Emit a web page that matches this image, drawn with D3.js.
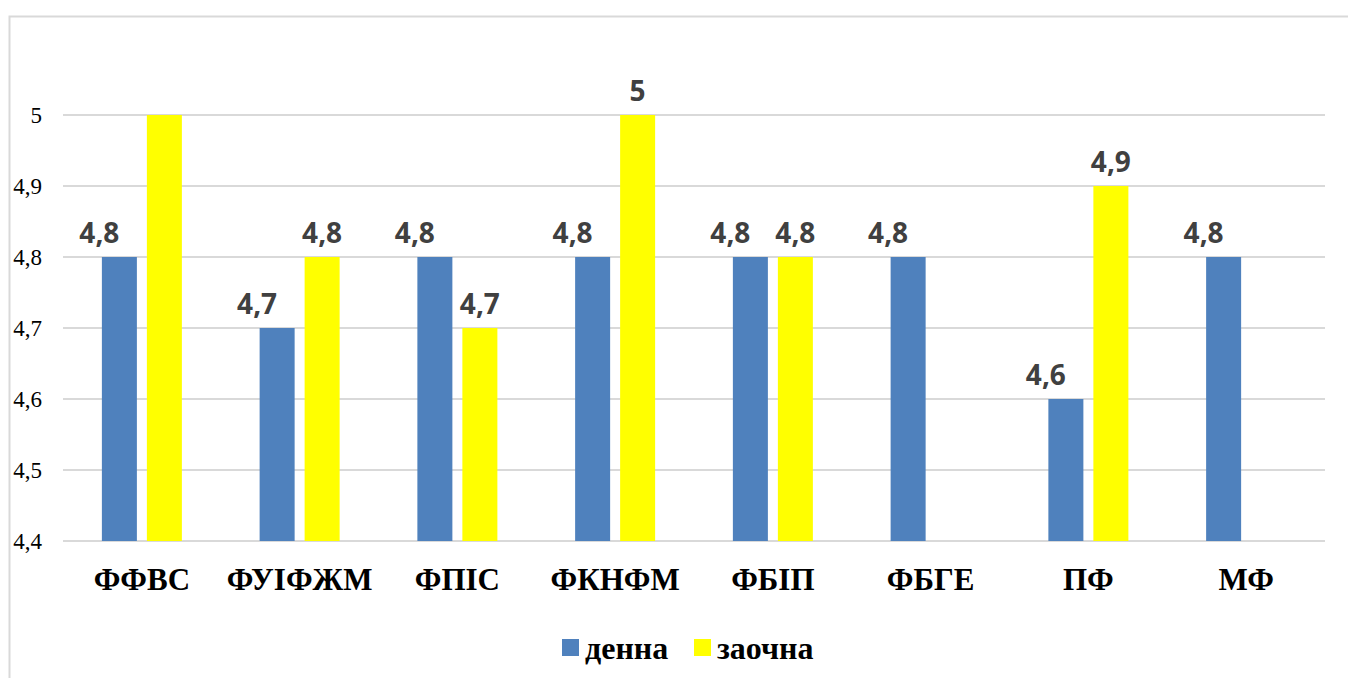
<!DOCTYPE html>
<html>
<head>
<meta charset="utf-8">
<script src="https://cdn.jsdelivr.net/npm/d3@7"></script>
</head>
<body style="margin:0">
<svg id="chart" width="1348" height="678"></svg>
<script>
var categories = ["ФФВС", "ФУІФЖМ", "ФПІС", "ФКНФМ", "ФБІП", "ФБГЕ", "ПФ", "МФ"];
var seriesNames = ["денна", "заочна"];
var denna = [4.8, 4.7, 4.8, 4.8, 4.8, 4.8, 4.6, 4.8];
var zaochna = [5.0, 4.8, 4.7, 5.0, 4.8, null, 4.9, null];
// which values carry a data label
var dennaLabels = [true, true, true, true, true, true, true, true];
var zaochnaLabels = [false, true, true, true, true, false, true, false];
var yTicks = [4.4, 4.5, 4.6, 4.7, 4.8, 4.9, 5.0];
var colors = ["#4F81BD", "#FFFF00"];

var SERIF = "'Liberation Serif'";
var SANS = "'Noto Sans'";

var svg = d3.select("#chart");
var plotLeft = 63, plotRight = 1325, plotTop = 115, plotBottom = 541;

// frame
svg.append("path")
  .attr("d", "M9.5,678 V16.5 H1348")
  .attr("fill", "none")
  .attr("stroke", "#d9d9d9")
  .attr("stroke-width", 2);

var x = d3.scaleBand().domain(categories).range([plotLeft, plotRight]);
var inner = d3.scaleBand().domain(seriesNames).range([0, 80]).paddingInner(0.222);
var y = d3.scaleLinear().domain([4.4, 5.0]).range([plotBottom, plotTop]);

function fmt(v) { return String(+v.toFixed(1)).replace(".", ","); }

// gridlines
svg.append("g").selectAll("line")
  .data(yTicks)
  .join("line")
  .attr("x1", plotLeft).attr("x2", plotRight)
  .attr("y1", function(d) { return Math.round(y(d)); })
  .attr("y2", function(d) { return Math.round(y(d)); })
  .attr("stroke", "#d9d9d9")
  .attr("stroke-width", 2);

// y labels
svg.append("g").selectAll("text")
  .data(yTicks)
  .join("text")
  .attr("x", 42)
  .attr("y", function(d) { return y(d) + 8; })
  .attr("text-anchor", "end")
  .style("font-family", function() { return SERIF; })
  .style("font-size", "23px")
  .attr("fill", "#000")
  .text(fmt);

// category labels
svg.append("g").selectAll("text")
  .data(categories)
  .join("text")
  .attr("x", function(d) { return x(d) + x.bandwidth() / 2; })
  .attr("y", 590)
  .attr("text-anchor", "middle")
  .style("font-family", function() { return SERIF; })
  .style("font-weight", "bold")
  .style("font-size", "31px")
  .attr("fill", "#000")
  .text(function(d) { return d; });

var series = [
  { name: seriesNames[0], values: denna, labels: dennaLabels, color: colors[0], dx: -20 },
  { name: seriesNames[1], values: zaochna, labels: zaochnaLabels, color: colors[1], dx: 0 }
];

var offset = (x.bandwidth() - 80) / 2;

series.forEach(function(s) {
  var pts = categories.map(function(c, i) {
    return { cat: c, v: s.values[i], lab: s.labels[i] };
  }).filter(function(p) { return p.v != null; });

  var g = svg.append("g");
  g.selectAll("rect")
    .data(pts)
    .join("rect")
    .attr("x", function(p) { return x(p.cat) + offset + inner(s.name); })
    .attr("y", function(p) { return y(p.v); })
    .attr("width", inner.bandwidth())
    .attr("height", function(p) { return y(4.4) - y(p.v); })
    .attr("fill", s.color);

  g.selectAll("text")
    .data(pts.filter(function(p) { return p.lab; }))
    .join("text")
    .attr("x", function(p) { return x(p.cat) + offset + inner(s.name) + inner.bandwidth() / 2 + s.dx; })
    .attr("y", function(p) { return y(p.v) - 14; })
    .attr("text-anchor", "middle")
    .style("font-family", function() { return SANS; })
    .style("font-weight", "bold")
    .style("font-size", "28px")
    .attr("fill", "#404040")
    .text(function(p) { return fmt(p.v); });
});

// legend
var legendX = [562, 694];
var lg = svg.append("g").selectAll("g")
  .data(series)
  .join("g")
  .attr("transform", function(d, i) { return "translate(" + legendX[i] + ",639)"; });
lg.append("rect")
  .attr("width", 17).attr("height", 17)
  .attr("fill", function(d) { return d.color; });
lg.append("text")
  .attr("x", 23)
  .attr("y", 20)
  .style("font-family", function() { return SERIF; })
  .style("font-weight", "bold")
  .style("font-size", "32px")
  .attr("fill", "#000")
  .text(function(d) { return d.name; });
</script>
</body>
</html>
